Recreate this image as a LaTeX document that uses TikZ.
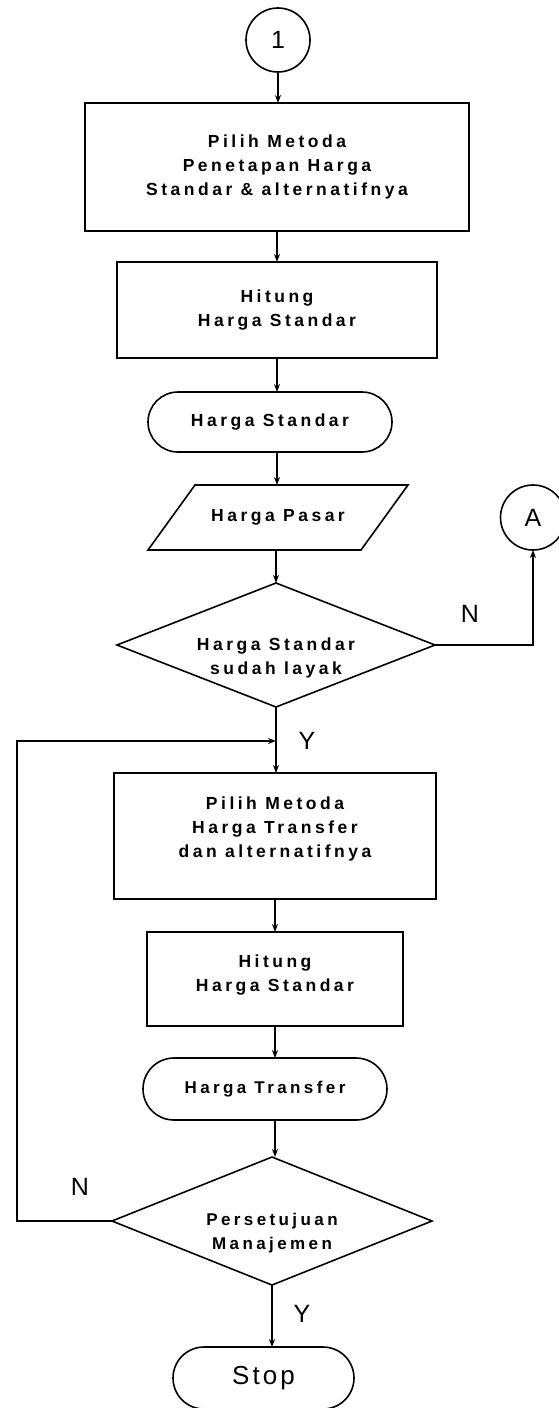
\documentclass[tikz,border=0pt]{standalone}
\usepackage{fontspec}
\setmainfont{Liberation Sans}
\newfontfamily\boxfont{Liberation Sans}[LetterSpace=20]
\newfontfamily\bigfont{Liberation Sans}[LetterSpace=12]
\usetikzlibrary{arrows.meta,shapes.geometric,calc}
\begin{document}
\begin{tikzpicture}[x=1pt,y=-1pt,
  every node/.style={inner sep=0pt, outer sep=0pt},
  ln/.style={line width=1.8pt},
  arr/.style={ln,-{Stealth[length=8pt,width=6pt]}},
  shp/.style={draw,line width=1.6pt},
  bfs/.style={align=center,font=\boxfont\bfseries\fontsize{17.5}{24}\selectfont},
  rgs/.style={align=center,font=\boxfont\bfseries\fontsize{17}{24}\selectfont},
  proc/.style={shp,rectangle},
  term/.style={shp,rectangle,rounded corners=30pt},
  conn/.style={shp,circle,font=\bigfont\fontsize{25}{28}\selectfont},
  dec/.style={shp,diamond},
  yn/.style={font=\bigfont\fontsize{25}{28}\selectfont}
]
\fill[white] (0,0) rectangle (559,1408);
\useasboundingbox (0,0) rectangle (559,1408);

% nodes
\node[conn,minimum size=64pt] (c1) at (278,40) {1};
\node[proc,bfs,minimum width=384pt,minimum height=128pt] (b1) at (277,167)
  {Pilih Metoda\\Penetapan Harga\\Standar \& alternatifnya};
\node[proc,bfs,minimum width=320pt,minimum height=96pt] (b2) at (277,310)
  {Hitung\\Harga Standar};
\node[term,bfs,minimum width=244pt,minimum height=60pt] (t1) at (270,422)
  {Harga Standar};
\node[bfs,minimum width=213pt,minimum height=65pt] (pasar) at (278,517.5)
  {Harga Pasar};
\draw[shp] ($(pasar.north west)+(23.5,0)$) -- ($(pasar.north east)+(23.5,0)$)
  -- ($(pasar.south east)+(-23.5,0)$) -- ($(pasar.south west)+(-23.5,0)$) -- cycle;
\node[dec,minimum width=318pt,minimum height=124pt] (d1) at (276,645) {};
\node[bfs] (d1t) at (276,658) {Harga Standar\\sudah layak};
\node[conn,minimum size=65pt] (cA) at (533,517.5) {A};

\node[proc,minimum width=322pt,minimum height=126pt] (b3) at (275,836) {};
\node[bfs] (b3t) at (275,829) {Pilih Metoda\\Harga Transfer\\dan alternatifnya};
\node[proc,minimum width=256pt,minimum height=94pt] (b4) at (275,979) {};
\node[bfs] (b4t) at (275,975) {Hitung\\Harga Standar};
\node[term,rgs,minimum width=244pt,minimum height=62pt,rounded corners=31pt] (t2) at (265,1089)
  {Harga Transfer};
\node[dec,minimum width=320pt,minimum height=128pt] (d2) at (272,1221) {};
\node[rgs] (d2t) at (272,1233) {Persetujuan\\Manajemen};
\node[term,minimum width=181pt,minimum height=62pt,rounded corners=31pt,font=\bigfont\fontsize{26}{28}\selectfont] (stop) at (263.5,1378) {Stop};

% labels
\node[yn] (y1) at (307,741) {Y};
\node[yn] (n1) at (470,614) {N};
\node[yn] (n2) at (80,1187) {N};
\node[yn] (y2) at (302,1314) {Y};

% connectors
\draw[arr] (c1.south) -- (c1.south |- b1.north);
\draw[arr] (b1.south) -- (b1.south |- b2.north);
\draw[arr] (b2.south) -- (b2.south |- t1.north);
\draw[arr] (b2.south |- t1.south) -- (b2.south |- pasar.north);
\draw[arr] (d1.north |- pasar.south) -- (d1.north);
\draw[arr] (d1.east) -| (cA.south);
\draw[arr] (d1.south) -- (d1.south |- b3.north);
\coordinate (fb) at (17,741);
\coordinate (jn) at (d1.south |- fb);
\draw[arr] (d2.west) -| (fb) -- (jn);
\draw[arr] (b3.south) -- (b3.south |- b4.north);
\draw[arr] (b4.south) -- (b4.south |- t2.north);
\draw[arr] (b4.south |- t2.south) -- (b4.south |- d2.north);
\draw[arr] (d2.south) -- (d2.south |- stop.north);
\end{tikzpicture}
\end{document}
